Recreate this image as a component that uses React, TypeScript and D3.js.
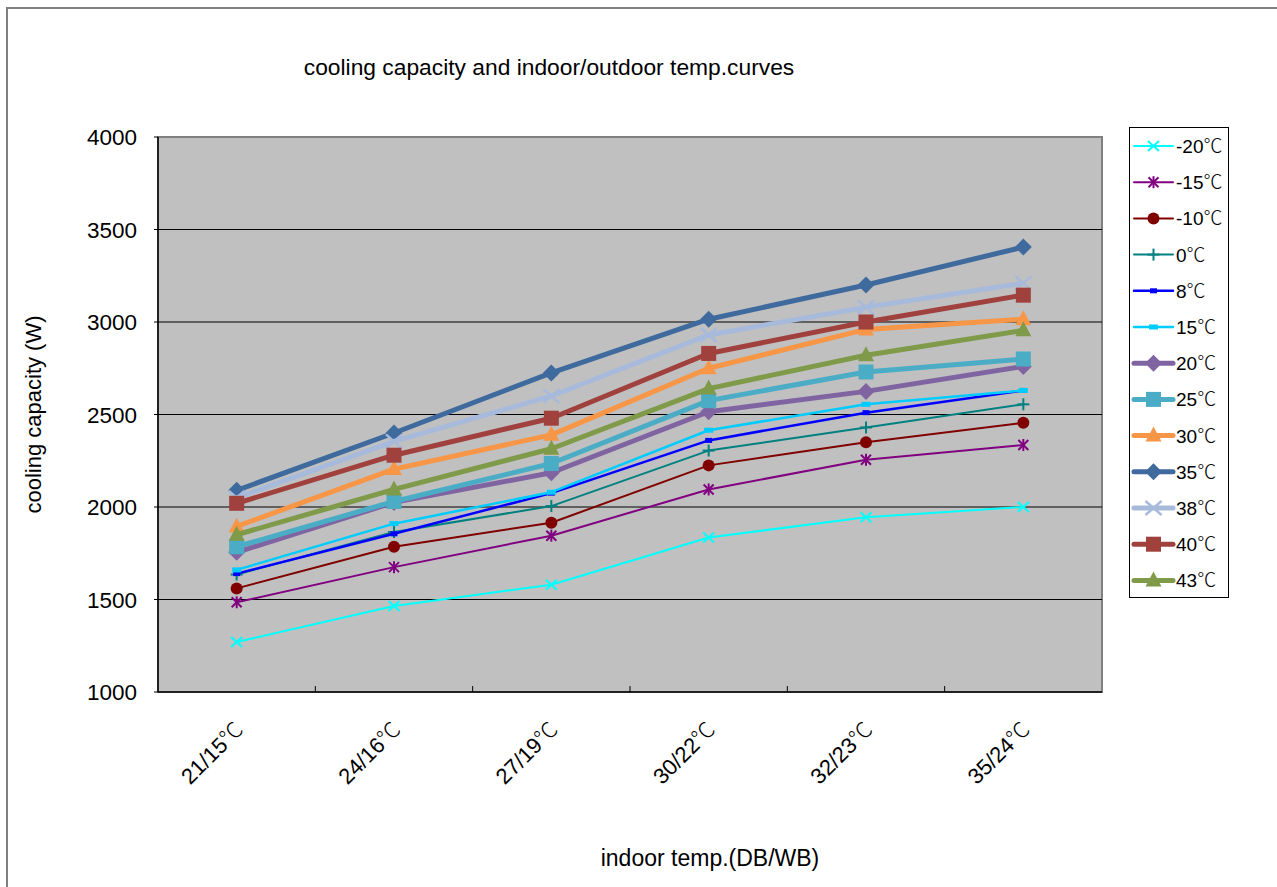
import React from "react";
import * as d3 from "d3";

const categories = ["21/15℃", "24/16℃", "27/19℃", "30/22℃", "32/23℃", "35/24℃"];
const yTicks = [1000, 1500, 2000, 2500, 3000, 3500, 4000];

const seriesNames = ["-20℃", "-15℃", "-10℃", "0℃", "8℃", "15℃", "20℃", "25℃", "30℃", "35℃", "38℃", "40℃", "43℃"];
const vM20 = [1270, 1465, 1580, 1835, 1945, 2000];
const vM15 = [1485, 1675, 1845, 2095, 2255, 2335];
const vM10 = [1560, 1785, 1915, 2225, 2350, 2455];
const v0 = [1635, 1865, 2005, 2305, 2430, 2555];
const v8 = [1640, 1855, 2075, 2360, 2510, 2630];
const v15 = [1660, 1910, 2080, 2415, 2555, 2630];
const v20 = [1755, 2025, 2185, 2515, 2625, 2760];
const v25 = [1785, 2030, 2235, 2575, 2730, 2800];
const v30 = [1895, 2205, 2390, 2750, 2960, 3015];
const v35 = [2090, 2400, 2725, 3015, 3200, 3405];
const v38 = [2050, 2355, 2600, 2930, 3080, 3210];
const v40 = [2020, 2280, 2480, 2830, 3000, 3145];
const v43 = [1850, 2095, 2315, 2640, 2820, 2955];
const seriesValues = [vM20, vM15, vM10, v0, v8, v15, v20, v25, v30, v35, v38, v40, v43];

const colors = ["#00FFFF", "#800080", "#800000", "#008080", "#0000FF", "#00CCFF", "#8064A2", "#4BACC6", "#F79646", "#3F6A9E", "#A8BADB", "#A0413E", "#7F9A48"];
const widths = [2, 2, 2, 2, 2.5, 2.5, 5, 5, 5, 5, 5, 5, 5];
const markers = ["x", "star", "circle", "plus", "dash8", "dash15", "diamond", "square", "triangle", "diamond", "xbig", "square", "triangle"];

const W = 1277, H = 887;
const plot = { left: 158, right: 1102, top: 137, bottom: 692 };
const FONT = "'Liberation Sans', Arial, sans-serif";
const CJK = "'Noto Sans CJK SC', 'Noto Sans CJK JP', sans-serif";

function Deg({ label }: { label: string }) {
  const parts = label.split("℃");
  return (
    <>
      {parts[0]}
      {label.includes("℃") ? (
        <tspan fontFamily={CJK} fontWeight={300}>
          ℃
        </tspan>
      ) : null}
    </>
  );
}

function Marker({ type, x, y, color }: { type: string; x: number; y: number; color: string }) {
  switch (type) {
    case "x":
      return (
        <g stroke={color} strokeWidth={2}>
          <line x1={x - 5.5} y1={y - 5} x2={x + 5.5} y2={y + 5} />
          <line x1={x - 5.5} y1={y + 5} x2={x + 5.5} y2={y - 5} />
        </g>
      );
    case "xbig":
      return (
        <g stroke={color} strokeWidth={2.5}>
          <line x1={x - 8} y1={y - 7} x2={x + 8} y2={y + 7} />
          <line x1={x - 8} y1={y + 7} x2={x + 8} y2={y - 7} />
        </g>
      );
    case "star":
      return (
        <g stroke={color} strokeWidth={2}>
          <line x1={x - 5} y1={y - 5} x2={x + 5} y2={y + 5} />
          <line x1={x - 5} y1={y + 5} x2={x + 5} y2={y - 5} />
          <line x1={x} y1={y - 6} x2={x} y2={y + 6} />
        </g>
      );
    case "circle":
      return <circle cx={x} cy={y} r={6} fill={color} />;
    case "plus":
      return (
        <g stroke={color} strokeWidth={2}>
          <line x1={x - 6} y1={y} x2={x + 6} y2={y} />
          <line x1={x} y1={y - 6} x2={x} y2={y + 6} />
        </g>
      );
    case "dash8":
      return <rect x={x - 3.5} y={y - 2.5} width={7} height={5} fill={color} />;
    case "dash15":
      return <rect x={x - 4.5} y={y - 2.5} width={9} height={5} fill={color} />;
    case "diamond":
      return <path d={`M${x},${y - 8.5}L${x + 8.5},${y}L${x},${y + 8.5}L${x - 8.5},${y}Z`} fill={color} />;
    case "square":
      return <rect x={x - 7.5} y={y - 7.5} width={15} height={15} fill={color} />;
    case "triangle":
      return <path d={`M${x},${y - 9}L${x + 8},${y + 6}L${x - 8},${y + 6}Z`} fill={color} />;
    default:
      return null;
  }
}

export default function App() {
  const x = d3.scaleBand<string>().domain(categories).range([plot.left, plot.right]).padding(0);
  const y = d3.scaleLinear().domain([1000, 4000]).range([plot.bottom, plot.top]);
  const cx = (c: string) => (x(c) as number) + x.bandwidth() / 2;
  const line = d3
    .line<number>()
    .x((_, i) => cx(categories[i]))
    .y((d) => y(d));

  const legend = { left: 1129.5, top: 127.5, width: 99, height: 470, firstY: 146, step: 36.2 };

  return (
    <svg width={W} height={H} style={{ position: "absolute", left: 0, top: 0, fontFamily: FONT }}>
      <rect x={0} y={0} width={W} height={H} fill="#fff" />
      <rect x={7} y={8} width={W + 20} height={H + 20} fill="#fff" stroke="#808080" strokeWidth={2} />

      <text x={549} y={75} fontSize={22.8} textAnchor="middle" fill="#000">
        cooling capacity and indoor/outdoor temp.curves
      </text>

      {/* plot area */}
      <rect x={plot.left} y={plot.top} width={plot.right - plot.left} height={plot.bottom - plot.top} fill="#C0C0C0" stroke="#808080" strokeWidth={2} />
      {yTicks.slice(1, -1).map((t) => (
        <line key={t} x1={plot.left} x2={plot.right} y1={y(t)} y2={y(t)} stroke="#000" strokeWidth={1} />
      ))}
      {/* axes */}
      <line x1={plot.left} x2={plot.left} y1={plot.top} y2={plot.bottom} stroke="#000" strokeWidth={1.5} />
      <line x1={plot.left} x2={plot.right} y1={plot.bottom} y2={plot.bottom} stroke="#000" strokeWidth={1.5} />
      {yTicks.map((t) => (
        <g key={t}>
          <line x1={plot.left - 4} x2={plot.left} y1={y(t)} y2={y(t)} stroke="#000" strokeWidth={1} />
          <text x={137} y={y(t) + 8} fontSize={22.5} textAnchor="end" fill="#000">
            {t}
          </text>
        </g>
      ))}
      {categories.slice(1).map((c) => (
        <line key={c} x1={x(c) as number} x2={x(c) as number} y1={plot.bottom} y2={plot.bottom - 6} stroke="#000" strokeWidth={1} />
      ))}
      {categories.map((c) => {
        const px = cx(c) + 8;
        const py = 731;
        return (
          <text key={c} x={px} y={py} fontSize={22} textAnchor="end" transform={`rotate(-45, ${px}, ${py})`} fill="#000">
            <Deg label={c} />
          </text>
        );
      })}

      <text x={710} y={866} fontSize={23} textAnchor="middle" fill="#000">
        indoor temp.(DB/WB)
      </text>
      <text x={41} y={414.5} fontSize={22} textAnchor="middle" transform="rotate(-90, 41, 414.5)" fill="#000">
        cooling capacity (W)
      </text>

      {/* series */}
      {seriesValues.map((vals, si) => (
        <g key={seriesNames[si]}>
          <path d={line(vals) || ""} fill="none" stroke={colors[si]} strokeWidth={widths[si]} strokeLinejoin="round" />
          {vals.map((v, i) => (
            <Marker key={i} type={markers[si]} x={cx(categories[i])} y={y(v)} color={colors[si]} />
          ))}
        </g>
      ))}

      {/* legend */}
      <rect x={legend.left} y={legend.top} width={legend.width} height={legend.height} fill="#fff" stroke="#000" strokeWidth={1} />
      {seriesNames.map((n, i) => {
        const ly = legend.firstY + i * legend.step;
        return (
          <g key={n}>
            <line x1={1134} x2={1173} y1={ly} y2={ly} stroke={colors[i]} strokeWidth={widths[i]} strokeLinecap="round" />
            <Marker type={markers[i]} x={1153.5} y={ly} color={colors[i]} />
            <text x={1176} y={ly + 7} fontSize={19} fill="#000">
              <Deg label={n} />
            </text>
          </g>
        );
      })}
    </svg>
  );
}
